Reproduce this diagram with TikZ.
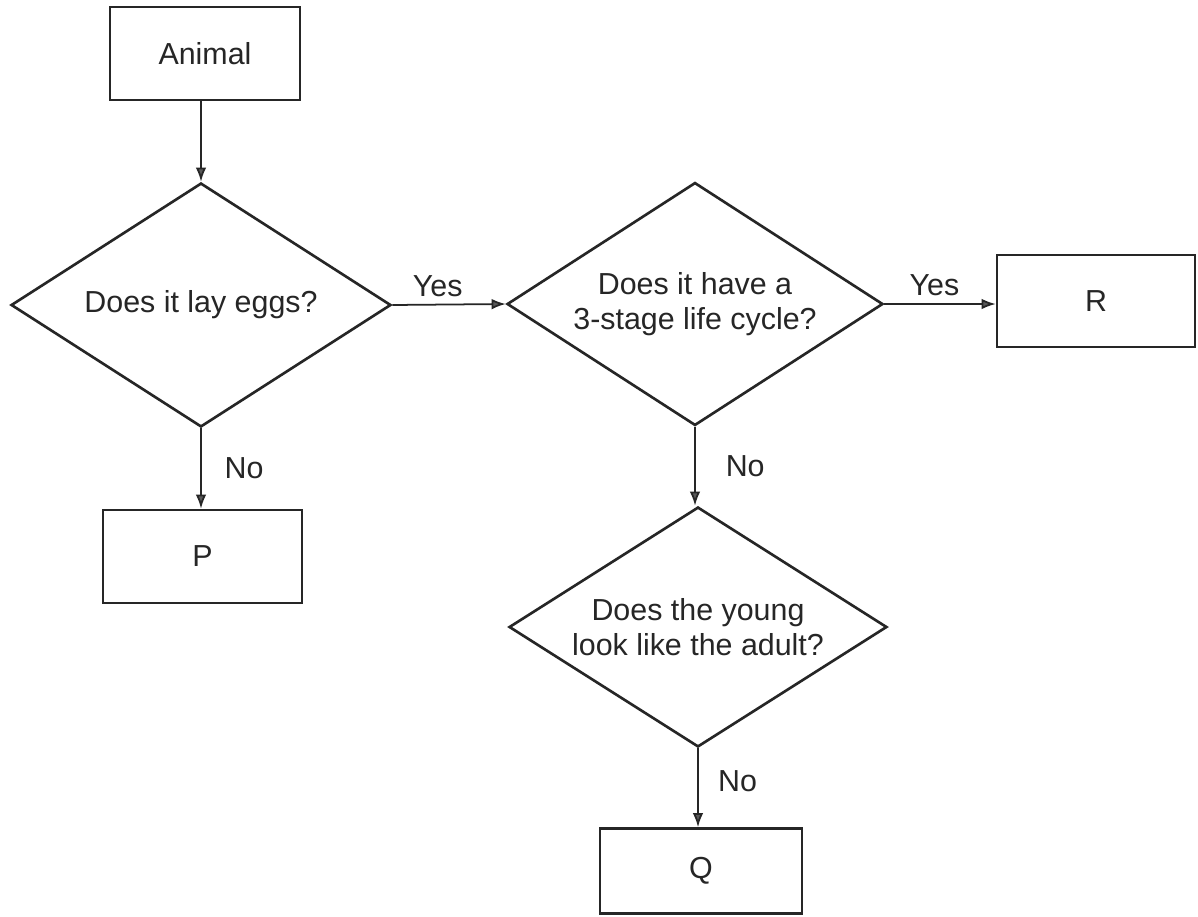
\documentclass[tikz,border=0pt]{standalone}
\usepackage{fontspec}
\setmainfont{Liberation Sans}
\usetikzlibrary{shapes.geometric,arrows.meta}
\begin{document}
\begin{tikzpicture}[x=0.02cm,y=-0.02cm,
  every node/.style={font=\fontsize{17.3}{20}\selectfont, text=black!85},
  box/.style={draw=black!85, line width=1.5pt, rectangle, inner sep=0pt, align=center},
  decision/.style={draw=black!85, line width=1.5pt, diamond, inner sep=0pt, align=center, aspect=1.55},
  link/.style={draw=black!85, line width=1pt, -{Latex[length=8pt,width=6pt,fill=black!65]}},
  lbl/.style={inner sep=1pt}]
\useasboundingbox (0,0) rectangle (1198,917);
\fill[white] (0,0) rectangle (1198,917);

\node[box, minimum width=3.8cm, minimum height=1.86cm] (animal) at (205,53.5) {Animal};
\node[decision, minimum width=7.6cm, minimum height=4.88cm] (d1) at (201,305) {Does it lay eggs?};
\node[decision, minimum width=7.52cm, minimum height=4.86cm] (d2) at (695,304) {Does it have a\\3-stage life cycle?};
\node[decision, minimum width=7.56cm, minimum height=4.8cm] (d3) at (698,627) {Does the young\\look like the adult?};
\node[box, minimum width=3.98cm, minimum height=1.86cm] (p) at (202.5,556.5) {P};
\node[box, minimum width=3.96cm, minimum height=1.84cm] (r) at (1096,301) {R};
\node[box, minimum width=4.04cm, minimum height=1.7cm] (q) at (701,871) {Q};

\draw[link] (animal.south -| d1.north) -- (d1.north);
\draw[link] (d1.east) -- node[lbl, pos=0.4, above=3pt] (yes1) {Yes} (d2.west);
\draw[link] (d2.east) -- node[lbl, pos=0.45, above=3pt] (yes2) {Yes} (d2.east -| r.west);
\draw[link] (d1.south) -- node[lbl, pos=0.5, right=12pt] (no1) {No} (d1.south |- p.north);
\draw[link] (d2.south) -- node[lbl, pos=0.5, right=16pt] (no2) {No} (d2.south |- d3.north);
\draw[link] (d3.south) -- node[lbl, pos=0.42, right=10pt] (no3) {No} (d3.south |- q.north);
\end{tikzpicture}
\end{document}
